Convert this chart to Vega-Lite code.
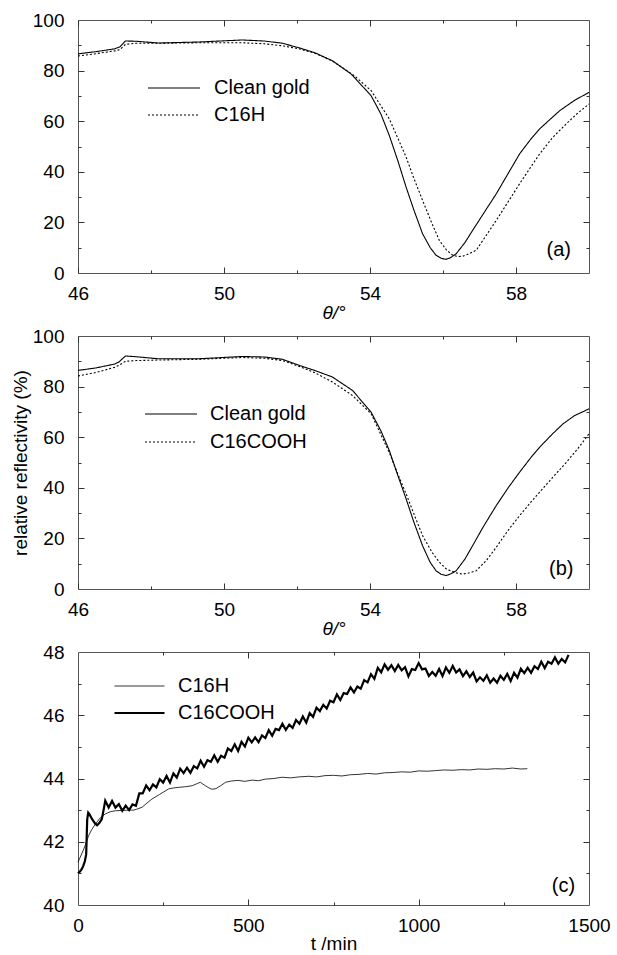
{
  "$schema": "https://vega.github.io/schema/vega-lite/v6.json",
  "background": "white",
  "padding": {"left": 10, "top": 10, "right": 0, "bottom": 0},
  "spacing": 63,
  "bounds": "flush",
  "resolve": {"scale": {"strokeDash": "independent", "strokeWidth": "independent"}, "legend": {"strokeDash": "independent", "strokeWidth": "independent"}},
  "config": {
    "font": "Liberation Sans",
    "view": {"stroke": "#555", "strokeWidth": 1},
    "axis": {"domain": false, "grid": false, "labelFont": "Liberation Sans", "labelFontSize": 19, "labelColor": "#000", "labelFlush": false, "labelOverlap": false, "ticks": true, "tickSize": 0, "tickColor": "#333", "tickWidth": 1, "labelPadding": 11, "titleFont": "Liberation Sans", "titleFontSize": 19, "titleFontWeight": "normal", "titleColor": "#000"},
    "axisLeft": {"labelPadding": 14},
    "text": {"font": "Liberation Sans", "fontSize": 20, "color": "#000"},
    "legend": {"padding": 0, "labelFont": "Liberation Sans", "labelFontSize": 20, "labelColor": "#000", "symbolType": "stroke", "symbolSize": 2704, "symbolStrokeColor": "#000", "title": null, "clipHeight": 20}
  },
  "datasets": {
    "a": [
      {"s":"Clean gold","x":46,"y":86.6},{"s":"Clean gold","x":46.5,"y":87.5},{"s":"Clean gold","x":47.0,"y":88.6},{"s":"Clean gold","x":47.15,"y":89.4},{"s":"Clean gold","x":47.3,"y":91.7},{"s":"Clean gold","x":47.6,"y":91.6},{"s":"Clean gold","x":48.2,"y":90.9},{"s":"Clean gold","x":49.3,"y":91.3},{"s":"Clean gold","x":50.5,"y":92.1},{"s":"Clean gold","x":51.1,"y":91.7},{"s":"Clean gold","x":51.6,"y":90.8},{"s":"Clean gold","x":52.06,"y":89.0},{"s":"Clean gold","x":52.5,"y":87.0},{"s":"Clean gold","x":52.97,"y":83.9},{"s":"Clean gold","x":53.48,"y":78.7},{"s":"Clean gold","x":54.03,"y":70.1},{"s":"Clean gold","x":54.3,"y":62.8},{"s":"Clean gold","x":54.53,"y":54.3},{"s":"Clean gold","x":54.76,"y":44.5},{"s":"Clean gold","x":54.99,"y":33.9},{"s":"Clean gold","x":55.2,"y":25.0},{"s":"Clean gold","x":55.44,"y":15.5},{"s":"Clean gold","x":55.65,"y":10.0},{"s":"Clean gold","x":55.81,"y":7.0},{"s":"Clean gold","x":55.95,"y":5.8},{"s":"Clean gold","x":56.08,"y":5.4},{"s":"Clean gold","x":56.2,"y":6.0},{"s":"Clean gold","x":56.36,"y":7.6},{"s":"Clean gold","x":56.6,"y":12.0},{"s":"Clean gold","x":56.81,"y":16.8},{"s":"Clean gold","x":57.1,"y":23.3},{"s":"Clean gold","x":57.46,"y":31.3},{"s":"Clean gold","x":57.8,"y":39.7},{"s":"Clean gold","x":58.1,"y":47.1},{"s":"Clean gold","x":58.4,"y":52.8},{"s":"Clean gold","x":58.65,"y":57.0},{"s":"Clean gold","x":59.2,"y":64.2},{"s":"Clean gold","x":59.6,"y":68.2},{"s":"Clean gold","x":60,"y":71.4},
      {"s":"C16H","x":46,"y":85.8},{"s":"C16H","x":46.5,"y":86.7},{"s":"C16H","x":47.0,"y":87.8},{"s":"C16H","x":47.15,"y":88.3},{"s":"C16H","x":47.3,"y":90.4},{"s":"C16H","x":47.6,"y":90.8},{"s":"C16H","x":48.2,"y":90.8},{"s":"C16H","x":49.3,"y":91.0},{"s":"C16H","x":50.5,"y":91.0},{"s":"C16H","x":51.1,"y":90.6},{"s":"C16H","x":51.6,"y":89.8},{"s":"C16H","x":52.06,"y":88.6},{"s":"C16H","x":52.5,"y":86.8},{"s":"C16H","x":52.97,"y":83.8},{"s":"C16H","x":53.57,"y":78.0},{"s":"C16H","x":54.03,"y":72.1},{"s":"C16H","x":54.53,"y":60.9},{"s":"C16H","x":54.99,"y":45.8},{"s":"C16H","x":55.2,"y":37.5},{"s":"C16H","x":55.44,"y":28.7},{"s":"C16H","x":55.7,"y":19.5},{"s":"C16H","x":55.9,"y":12.9},{"s":"C16H","x":56.1,"y":9.0},{"s":"C16H","x":56.27,"y":7.0},{"s":"C16H","x":56.4,"y":6.5},{"s":"C16H","x":56.54,"y":6.6},{"s":"C16H","x":56.7,"y":7.5},{"s":"C16H","x":56.91,"y":9.0},{"s":"C16H","x":57.2,"y":15.2},{"s":"C16H","x":57.46,"y":20.8},{"s":"C16H","x":57.8,"y":28.5},{"s":"C16H","x":58.1,"y":35.3},{"s":"C16H","x":58.4,"y":41.8},{"s":"C16H","x":58.65,"y":47.1},{"s":"C16H","x":59.0,"y":53.5},{"s":"C16H","x":59.38,"y":59.0},{"s":"C16H","x":59.7,"y":63.3},{"s":"C16H","x":60,"y":66.8}
    ],
    "b": [
      {"s":"Clean gold","x":46,"y":86.4},{"s":"Clean gold","x":46.5,"y":87.4},{"s":"Clean gold","x":47.0,"y":88.9},{"s":"Clean gold","x":47.12,"y":89.7},{"s":"Clean gold","x":47.3,"y":92.1},{"s":"Clean gold","x":47.6,"y":91.8},{"s":"Clean gold","x":48.2,"y":91.0},{"s":"Clean gold","x":49.3,"y":91.0},{"s":"Clean gold","x":50.5,"y":91.9},{"s":"Clean gold","x":51.1,"y":91.7},{"s":"Clean gold","x":51.6,"y":90.8},{"s":"Clean gold","x":52.06,"y":88.4},{"s":"Clean gold","x":52.5,"y":86.3},{"s":"Clean gold","x":52.97,"y":83.8},{"s":"Clean gold","x":53.52,"y":78.5},{"s":"Clean gold","x":54.03,"y":69.9},{"s":"Clean gold","x":54.3,"y":62.5},{"s":"Clean gold","x":54.53,"y":54.7},{"s":"Clean gold","x":54.76,"y":45.0},{"s":"Clean gold","x":54.99,"y":35.6},{"s":"Clean gold","x":55.2,"y":26.5},{"s":"Clean gold","x":55.44,"y":17.1},{"s":"Clean gold","x":55.65,"y":10.5},{"s":"Clean gold","x":55.81,"y":7.2},{"s":"Clean gold","x":55.95,"y":5.8},{"s":"Clean gold","x":56.08,"y":5.3},{"s":"Clean gold","x":56.2,"y":5.9},{"s":"Clean gold","x":56.36,"y":7.2},{"s":"Clean gold","x":56.6,"y":11.8},{"s":"Clean gold","x":56.81,"y":17.1},{"s":"Clean gold","x":57.1,"y":24.5},{"s":"Clean gold","x":57.46,"y":33.0},{"s":"Clean gold","x":57.8,"y":40.3},{"s":"Clean gold","x":58.1,"y":46.2},{"s":"Clean gold","x":58.4,"y":51.8},{"s":"Clean gold","x":58.65,"y":56.1},{"s":"Clean gold","x":59.0,"y":61.3},{"s":"Clean gold","x":59.29,"y":65.3},{"s":"Clean gold","x":59.6,"y":68.5},{"s":"Clean gold","x":60,"y":71.2},
      {"s":"C16COOH","x":46,"y":84.2},{"s":"C16COOH","x":46.5,"y":85.6},{"s":"C16COOH","x":47.0,"y":87.6},{"s":"C16COOH","x":47.12,"y":88.4},{"s":"C16COOH","x":47.3,"y":90.0},{"s":"C16COOH","x":47.6,"y":90.3},{"s":"C16COOH","x":48.2,"y":90.5},{"s":"C16COOH","x":49.3,"y":90.8},{"s":"C16COOH","x":50.5,"y":91.5},{"s":"C16COOH","x":51.1,"y":91.2},{"s":"C16COOH","x":51.6,"y":90.3},{"s":"C16COOH","x":52.06,"y":88.0},{"s":"C16COOH","x":52.5,"y":85.4},{"s":"C16COOH","x":52.97,"y":81.8},{"s":"C16COOH","x":53.52,"y":76.5},{"s":"C16COOH","x":54.03,"y":69.3},{"s":"C16COOH","x":54.53,"y":53.9},{"s":"C16COOH","x":54.76,"y":45.5},{"s":"C16COOH","x":54.99,"y":37.6},{"s":"C16COOH","x":55.2,"y":29.8},{"s":"C16COOH","x":55.44,"y":21.1},{"s":"C16COOH","x":55.7,"y":14.5},{"s":"C16COOH","x":55.9,"y":10.6},{"s":"C16COOH","x":56.1,"y":7.8},{"s":"C16COOH","x":56.27,"y":6.9},{"s":"C16COOH","x":56.4,"y":6.2},{"s":"C16COOH","x":56.54,"y":5.9},{"s":"C16COOH","x":56.7,"y":6.3},{"s":"C16COOH","x":56.91,"y":7.2},{"s":"C16COOH","x":57.2,"y":11.5},{"s":"C16COOH","x":57.46,"y":16.5},{"s":"C16COOH","x":57.8,"y":23.5},{"s":"C16COOH","x":58.1,"y":29.0},{"s":"C16COOH","x":58.4,"y":34.2},{"s":"C16COOH","x":58.65,"y":38.3},{"s":"C16COOH","x":59.0,"y":44.0},{"s":"C16COOH","x":59.38,"y":50.1},{"s":"C16COOH","x":59.7,"y":55.6},{"s":"C16COOH","x":60,"y":61.3}
    ],
    "c": [
      {"s":"C16H","x":0,"y":41.35},{"s":"C16H","x":8,"y":41.55},{"s":"C16H","x":17,"y":41.77},{"s":"C16H","x":25,"y":42.0},{"s":"C16H","x":31,"y":42.19},{"s":"C16H","x":40,"y":42.38},{"s":"C16H","x":51,"y":42.56},{"s":"C16H","x":65,"y":42.75},{"s":"C16H","x":80,"y":42.88},{"s":"C16H","x":95,"y":42.95},{"s":"C16H","x":110,"y":42.98},{"s":"C16H","x":130,"y":42.99},{"s":"C16H","x":150,"y":43.0},{"s":"C16H","x":164,"y":43.0},{"s":"C16H","x":175,"y":43.04},{"s":"C16H","x":188,"y":43.09},{"s":"C16H","x":200,"y":43.2},{"s":"C16H","x":217,"y":43.35},{"s":"C16H","x":240,"y":43.5},{"s":"C16H","x":266,"y":43.67},{"s":"C16H","x":280,"y":43.7},{"s":"C16H","x":296,"y":43.72},{"s":"C16H","x":315,"y":43.74},{"s":"C16H","x":335,"y":43.77},{"s":"C16H","x":350,"y":43.84},{"s":"C16H","x":359,"y":43.88},{"s":"C16H","x":367,"y":43.82},{"s":"C16H","x":374,"y":43.77},{"s":"C16H","x":385,"y":43.7},{"s":"C16H","x":393,"y":43.66},{"s":"C16H","x":405,"y":43.68},{"s":"C16H","x":420,"y":43.78},{"s":"C16H","x":433,"y":43.88},{"s":"C16H","x":450,"y":43.92},{"s":"C16H","x":470,"y":43.94},{"s":"C16H","x":490,"y":43.91},{"s":"C16H","x":511,"y":43.95},{"s":"C16H","x":530,"y":43.93},{"s":"C16H","x":550,"y":43.98},{"s":"C16H","x":575,"y":44.0},{"s":"C16H","x":599,"y":44.04},{"s":"C16H","x":625,"y":44.02},{"s":"C16H","x":648,"y":44.05},{"s":"C16H","x":677,"y":44.07},{"s":"C16H","x":700,"y":44.05},{"s":"C16H","x":725,"y":44.09},{"s":"C16H","x":750,"y":44.1},{"s":"C16H","x":775,"y":44.08},{"s":"C16H","x":800,"y":44.12},{"s":"C16H","x":825,"y":44.13},{"s":"C16H","x":850,"y":44.16},{"s":"C16H","x":875,"y":44.14},{"s":"C16H","x":900,"y":44.18},{"s":"C16H","x":925,"y":44.19},{"s":"C16H","x":950,"y":44.21},{"s":"C16H","x":975,"y":44.2},{"s":"C16H","x":1000,"y":44.24},{"s":"C16H","x":1025,"y":44.23},{"s":"C16H","x":1050,"y":44.25},{"s":"C16H","x":1075,"y":44.27},{"s":"C16H","x":1100,"y":44.26},{"s":"C16H","x":1125,"y":44.28},{"s":"C16H","x":1150,"y":44.27},{"s":"C16H","x":1175,"y":44.3},{"s":"C16H","x":1200,"y":44.29},{"s":"C16H","x":1225,"y":44.31},{"s":"C16H","x":1250,"y":44.3},{"s":"C16H","x":1275,"y":44.33},{"s":"C16H","x":1300,"y":44.3},{"s":"C16H","x":1319,"y":44.31},
      {"s":"C16COOH","x":0,"y":41.0},{"s":"C16COOH","x":5,"y":41.05},{"s":"C16COOH","x":10,"y":41.12},{"s":"C16COOH","x":15,"y":41.22},{"s":"C16COOH","x":20,"y":41.38},{"s":"C16COOH","x":24,"y":41.6},{"s":"C16COOH","x":27,"y":42.7},{"s":"C16COOH","x":30,"y":42.92},{"s":"C16COOH","x":33,"y":42.88},{"s":"C16COOH","x":41,"y":42.72},{"s":"C16COOH","x":50,"y":42.58},{"s":"C16COOH","x":56,"y":42.52},{"s":"C16COOH","x":63,"y":42.6},{"s":"C16COOH","x":70,"y":42.72},{"s":"C16COOH","x":75,"y":43.0},
      {"s":"C16COOH","x":80,"y":43.30},{"s":"C16COOH","x":90,"y":43.08},{"s":"C16COOH","x":100,"y":43.29},{"s":"C16COOH","x":110,"y":43.08},{"s":"C16COOH","x":120,"y":43.19},{"s":"C16COOH","x":130,"y":42.98},{"s":"C16COOH","x":140,"y":43.14},{"s":"C16COOH","x":150,"y":43.00},{"s":"C16COOH","x":160,"y":43.18},{"s":"C16COOH","x":170,"y":43.14},
      {"s":"C16COOH","x":180,"y":43.53},{"s":"C16COOH","x":190,"y":43.53},{"s":"C16COOH","x":200,"y":43.78},{"s":"C16COOH","x":210,"y":43.63},{"s":"C16COOH","x":220,"y":43.81},{"s":"C16COOH","x":230,"y":43.72},{"s":"C16COOH","x":240,"y":43.98},{"s":"C16COOH","x":250,"y":43.87},{"s":"C16COOH","x":260,"y":44.08},{"s":"C16COOH","x":270,"y":43.87},
      {"s":"C16COOH","x":280,"y":44.16},{"s":"C16COOH","x":290,"y":44.03},{"s":"C16COOH","x":300,"y":44.31},{"s":"C16COOH","x":310,"y":44.17},{"s":"C16COOH","x":320,"y":44.34},{"s":"C16COOH","x":330,"y":44.18},{"s":"C16COOH","x":340,"y":44.39},{"s":"C16COOH","x":350,"y":44.32},{"s":"C16COOH","x":360,"y":44.56},{"s":"C16COOH","x":370,"y":44.37},
      {"s":"C16COOH","x":380,"y":44.58},{"s":"C16COOH","x":390,"y":44.53},{"s":"C16COOH","x":400,"y":44.73},{"s":"C16COOH","x":410,"y":44.53},{"s":"C16COOH","x":420,"y":44.72},{"s":"C16COOH","x":430,"y":44.66},{"s":"C16COOH","x":440,"y":44.95},{"s":"C16COOH","x":450,"y":44.87},{"s":"C16COOH","x":460,"y":45.08},{"s":"C16COOH","x":470,"y":44.87},
      {"s":"C16COOH","x":480,"y":45.16},{"s":"C16COOH","x":490,"y":45.01},{"s":"C16COOH","x":500,"y":45.29},{"s":"C16COOH","x":510,"y":45.14},{"s":"C16COOH","x":520,"y":45.30},{"s":"C16COOH","x":530,"y":45.15},{"s":"C16COOH","x":540,"y":45.36},{"s":"C16COOH","x":550,"y":45.28},{"s":"C16COOH","x":560,"y":45.53},{"s":"C16COOH","x":570,"y":45.35},
      {"s":"C16COOH","x":580,"y":45.57},{"s":"C16COOH","x":590,"y":45.53},{"s":"C16COOH","x":600,"y":45.73},{"s":"C16COOH","x":610,"y":45.54},{"s":"C16COOH","x":620,"y":45.70},{"s":"C16COOH","x":630,"y":45.60},{"s":"C16COOH","x":640,"y":45.85},{"s":"C16COOH","x":650,"y":45.73},{"s":"C16COOH","x":660,"y":45.96},{"s":"C16COOH","x":670,"y":45.77},
      {"s":"C16COOH","x":680,"y":46.07},{"s":"C16COOH","x":690,"y":45.95},{"s":"C16COOH","x":700,"y":46.24},{"s":"C16COOH","x":710,"y":46.13},{"s":"C16COOH","x":720,"y":46.33},{"s":"C16COOH","x":730,"y":46.21},{"s":"C16COOH","x":740,"y":46.46},{"s":"C16COOH","x":750,"y":46.41},{"s":"C16COOH","x":760,"y":46.66},{"s":"C16COOH","x":770,"y":46.48},
      {"s":"C16COOH","x":780,"y":46.70},{"s":"C16COOH","x":790,"y":46.67},{"s":"C16COOH","x":800,"y":46.88},{"s":"C16COOH","x":810,"y":46.72},{"s":"C16COOH","x":820,"y":46.91},{"s":"C16COOH","x":830,"y":46.84},{"s":"C16COOH","x":840,"y":47.11},{"s":"C16COOH","x":850,"y":47.04},{"s":"C16COOH","x":860,"y":47.30},{"s":"C16COOH","x":870,"y":47.15},
      {"s":"C16COOH","x":880,"y":47.50},{"s":"C16COOH","x":890,"y":47.36},{"s":"C16COOH","x":900,"y":47.61},{"s":"C16COOH","x":910,"y":47.44},{"s":"C16COOH","x":920,"y":47.58},{"s":"C16COOH","x":930,"y":47.40},{"s":"C16COOH","x":940,"y":47.59},{"s":"C16COOH","x":950,"y":47.42},{"s":"C16COOH","x":960,"y":47.52},{"s":"C16COOH","x":970,"y":47.23},
      {"s":"C16COOH","x":980,"y":47.46},{"s":"C16COOH","x":990,"y":47.43},{"s":"C16COOH","x":1000,"y":47.65},{"s":"C16COOH","x":1010,"y":47.45},{"s":"C16COOH","x":1020,"y":47.48},{"s":"C16COOH","x":1030,"y":47.24},{"s":"C16COOH","x":1040,"y":47.37},{"s":"C16COOH","x":1050,"y":47.25},{"s":"C16COOH","x":1060,"y":47.46},{"s":"C16COOH","x":1070,"y":47.24},
      {"s":"C16COOH","x":1080,"y":47.51},{"s":"C16COOH","x":1090,"y":47.34},{"s":"C16COOH","x":1100,"y":47.56},{"s":"C16COOH","x":1110,"y":47.35},{"s":"C16COOH","x":1120,"y":47.45},{"s":"C16COOH","x":1130,"y":47.24},{"s":"C16COOH","x":1140,"y":47.39},{"s":"C16COOH","x":1150,"y":47.21},{"s":"C16COOH","x":1160,"y":47.35},{"s":"C16COOH","x":1170,"y":47.07},
      {"s":"C16COOH","x":1180,"y":47.20},{"s":"C16COOH","x":1190,"y":47.09},{"s":"C16COOH","x":1200,"y":47.26},{"s":"C16COOH","x":1210,"y":47.03},{"s":"C16COOH","x":1220,"y":47.16},{"s":"C16COOH","x":1230,"y":47.03},{"s":"C16COOH","x":1240,"y":47.25},{"s":"C16COOH","x":1250,"y":47.12},{"s":"C16COOH","x":1260,"y":47.31},{"s":"C16COOH","x":1270,"y":47.08},
      {"s":"C16COOH","x":1280,"y":47.34},{"s":"C16COOH","x":1290,"y":47.19},{"s":"C16COOH","x":1300,"y":47.47},{"s":"C16COOH","x":1310,"y":47.33},{"s":"C16COOH","x":1320,"y":47.50},{"s":"C16COOH","x":1330,"y":47.34},{"s":"C16COOH","x":1340,"y":47.55},{"s":"C16COOH","x":1350,"y":47.46},{"s":"C16COOH","x":1360,"y":47.69},{"s":"C16COOH","x":1370,"y":47.49},
      {"s":"C16COOH","x":1380,"y":47.69},{"s":"C16COOH","x":1390,"y":47.63},{"s":"C16COOH","x":1400,"y":47.83},{"s":"C16COOH","x":1410,"y":47.63},{"s":"C16COOH","x":1420,"y":47.78},{"s":"C16COOH","x":1430,"y":47.67},{"s":"C16COOH","x":1440,"y":47.91}
    ]
  },
  "vconcat": [
    {
      "width": 511, "height": 253,
      "layer": [
        {
          "data": {"name": "a"},
          "mark": {"type": "line", "color": "#000", "strokeWidth": 1.1},
          "encoding": {
            "x": {"field": "x", "type": "quantitative", "scale": {"domain": [46, 60], "nice": false, "zero": false},
              "axis": {"orient": "bottom", "values": [46,50,54,58], "title": "θ/°", "titleFontStyle": "italic", "titleY": 45, "titleBaseline": "alphabetic"}},
            "y": {"field": "y", "type": "quantitative", "scale": {"domain": [0, 100], "nice": false},
              "axis": {"orient": "left", "values": [0,20,40,60,80,100], "title": null}},
            "strokeDash": {"field": "s", "type": "nominal", "scale": {"domain": ["Clean gold", "C16H"], "range": [[1, 0], [2, 2]]},
              "legend": {"orient": "none", "legendX": 69, "legendY": 58, "labelOffset": 13, "rowPadding": 7, "symbolStrokeWidth": 1.1}}
          }
        },
        {
          "data": {"values": [{"t": "(a)"}]},
          "mark": {"type": "text"},
          "encoding": {
            "x": {"datum": 59.17, "type": "quantitative", "axis": {"orient": "top", "ticks": true, "tickColor": "#333", "zindex": 1, "offset": -253, "values": [46,50,54,58], "tickSize": 6, "labels": false, "title": null}},
            "y": {"datum": 9, "type": "quantitative", "axis": {"orient": "right", "ticks": true, "tickColor": "#333", "zindex": 1, "offset": -511, "values": [20,40,60,80], "tickSize": 6, "labels": false, "title": null}},
            "text": {"field": "t"}
          }
        },
        {
          "data": {"values": [{"t": ""}]},
          "mark": {"type": "text"},
          "encoding": {
            "x": {"datum": 50, "type": "quantitative", "axis": {"orient": "bottom", "ticks": true, "tickColor": "#333", "zindex": 1, "offset": -253, "values": [46,50,54,58], "tickSize": 6, "labels": false, "title": null}},
            "y": {"datum": 50, "type": "quantitative", "axis": {"orient": "left", "ticks": true, "tickColor": "#333", "zindex": 1, "offset": -511, "values": [20,40,60,80], "tickSize": 6, "labels": false, "title": null}},
            "text": {"field": "t"}
          }
        },
        {
          "data": {"values": [{"t": ""}]},
          "mark": {"type": "text"},
          "encoding": {
            "x": {"datum": 50, "type": "quantitative", "axis": {"orient": "top", "ticks": true, "tickColor": "#333", "zindex": 1, "offset": -253, "values": [48,52,56], "tickSize": 3, "labels": false, "title": null}},
            "y": {"datum": 50, "type": "quantitative", "axis": {"orient": "right", "ticks": true, "tickColor": "#333", "zindex": 1, "offset": -511, "values": [10,30,50,70,90], "tickSize": 3, "labels": false, "title": null}},
            "text": {"field": "t"}
          }
        },
        {
          "data": {"values": [{"t": ""}]},
          "mark": {"type": "text"},
          "encoding": {
            "x": {"datum": 50, "type": "quantitative", "axis": {"orient": "bottom", "ticks": true, "tickColor": "#333", "zindex": 1, "offset": -253, "values": [48,52,56], "tickSize": 3, "labels": false, "title": null}},
            "y": {"datum": 50, "type": "quantitative", "axis": {"orient": "left", "ticks": true, "tickColor": "#333", "zindex": 1, "offset": -511, "values": [10,30,50,70,90], "tickSize": 3, "labels": false, "title": null}},
            "text": {"field": "t"}
          }
        }
      ]
    },
    {
      "width": 511, "height": 253,
      "layer": [
        {
          "data": {"name": "b"},
          "mark": {"type": "line", "color": "#000", "strokeWidth": 1.1},
          "encoding": {
            "x": {"field": "x", "type": "quantitative", "scale": {"domain": [46, 60], "nice": false, "zero": false},
              "axis": {"orient": "bottom", "values": [46,50,54,58], "title": "θ/°", "titleFontStyle": "italic", "titleY": 45, "titleBaseline": "alphabetic"}},
            "y": {"field": "y", "type": "quantitative", "scale": {"domain": [0, 100], "nice": false},
              "axis": {"orient": "left", "values": [0,20,40,60,80,100], "title": "relative reflectivity (%)", "titleX": -52, "titleBaseline": "alphabetic"}},
            "strokeDash": {"field": "s", "type": "nominal", "scale": {"domain": ["Clean gold", "C16COOH"], "range": [[1, 0], [2, 2]]},
              "legend": {"orient": "none", "legendX": 66, "legendY": 68, "labelOffset": 12, "rowPadding": 8, "symbolStrokeWidth": 1.1}}
          }
        },
        {
          "data": {"values": [{"t": "(b)"}]},
          "mark": {"type": "text"},
          "encoding": {
            "x": {"datum": 59.24, "type": "quantitative", "axis": {"orient": "top", "ticks": true, "tickColor": "#333", "zindex": 1, "offset": -253, "values": [46,50,54,58], "tickSize": 6, "labels": false, "title": null}},
            "y": {"datum": 8, "type": "quantitative", "axis": {"orient": "right", "ticks": true, "tickColor": "#333", "zindex": 1, "offset": -511, "values": [20,40,60,80], "tickSize": 6, "labels": false, "title": null}},
            "text": {"field": "t"}
          }
        },
        {
          "data": {"values": [{"t": ""}]},
          "mark": {"type": "text"},
          "encoding": {
            "x": {"datum": 50, "type": "quantitative", "axis": {"orient": "bottom", "ticks": true, "tickColor": "#333", "zindex": 1, "offset": -253, "values": [46,50,54,58], "tickSize": 6, "labels": false, "title": null}},
            "y": {"datum": 50, "type": "quantitative", "axis": {"orient": "left", "ticks": true, "tickColor": "#333", "zindex": 1, "offset": -511, "values": [20,40,60,80], "tickSize": 6, "labels": false, "title": null}},
            "text": {"field": "t"}
          }
        },
        {
          "data": {"values": [{"t": ""}]},
          "mark": {"type": "text"},
          "encoding": {
            "x": {"datum": 50, "type": "quantitative", "axis": {"orient": "top", "ticks": true, "tickColor": "#333", "zindex": 1, "offset": -253, "values": [48,52,56], "tickSize": 3, "labels": false, "title": null}},
            "y": {"datum": 50, "type": "quantitative", "axis": {"orient": "right", "ticks": true, "tickColor": "#333", "zindex": 1, "offset": -511, "values": [10,30,50,70,90], "tickSize": 3, "labels": false, "title": null}},
            "text": {"field": "t"}
          }
        },
        {
          "data": {"values": [{"t": ""}]},
          "mark": {"type": "text"},
          "encoding": {
            "x": {"datum": 50, "type": "quantitative", "axis": {"orient": "bottom", "ticks": true, "tickColor": "#333", "zindex": 1, "offset": -253, "values": [48,52,56], "tickSize": 3, "labels": false, "title": null}},
            "y": {"datum": 50, "type": "quantitative", "axis": {"orient": "left", "ticks": true, "tickColor": "#333", "zindex": 1, "offset": -511, "values": [10,30,50,70,90], "tickSize": 3, "labels": false, "title": null}},
            "text": {"field": "t"}
          }
        }
      ]
    },
    {
      "width": 511, "height": 253,
      "layer": [
        {
          "data": {"name": "c"},
          "mark": {"type": "line", "color": "#000"},
          "encoding": {
            "x": {"field": "x", "type": "quantitative", "scale": {"domain": [0, 1500], "nice": false},
              "axis": {"orient": "bottom", "values": [0,500,1000,1500], "format": "d", "title": "t /min", "titleY": 44, "titleBaseline": "alphabetic"}},
            "y": {"field": "y", "type": "quantitative", "scale": {"domain": [40, 48], "nice": false, "zero": false},
              "axis": {"orient": "left", "values": [40,42,44,46,48], "title": null}},
            "strokeWidth": {"field": "s", "type": "nominal", "scale": {"domain": ["C16H", "C16COOH"], "range": [0.8, 2.2]},
              "legend": {"orient": "none", "legendX": 35, "legendY": 24, "labelOffset": 12, "rowPadding": 7, "symbolSize": 2500}}
          }
        },
        {
          "data": {"values": [{"t": "(c)"}]},
          "mark": {"type": "text"},
          "encoding": {
            "x": {"datum": 1425, "type": "quantitative", "axis": {"orient": "top", "ticks": true, "tickColor": "#333", "zindex": 1, "offset": -253, "values": [500,1000], "tickSize": 6, "labels": false, "title": null}},
            "y": {"datum": 40.6, "type": "quantitative", "axis": {"orient": "right", "ticks": true, "tickColor": "#333", "zindex": 1, "offset": -511, "values": [42,44,46], "tickSize": 6, "labels": false, "title": null}},
            "text": {"field": "t"}
          }
        },
        {
          "data": {"values": [{"t": ""}]},
          "mark": {"type": "text"},
          "encoding": {
            "x": {"datum": 500, "type": "quantitative", "axis": {"orient": "bottom", "ticks": true, "tickColor": "#333", "zindex": 1, "offset": -253, "values": [500,1000], "tickSize": 6, "labels": false, "title": null}},
            "y": {"datum": 44, "type": "quantitative", "axis": {"orient": "left", "ticks": true, "tickColor": "#333", "zindex": 1, "offset": -511, "values": [42,44,46], "tickSize": 6, "labels": false, "title": null}},
            "text": {"field": "t"}
          }
        },
        {
          "data": {"values": [{"t": ""}]},
          "mark": {"type": "text"},
          "encoding": {
            "x": {"datum": 500, "type": "quantitative", "axis": {"orient": "top", "ticks": true, "tickColor": "#333", "zindex": 1, "offset": -253, "values": [250,750,1250], "tickSize": 3, "labels": false, "title": null}},
            "y": {"datum": 44, "type": "quantitative", "axis": {"orient": "right", "ticks": true, "tickColor": "#333", "zindex": 1, "offset": -511, "values": [41,43,45,47], "tickSize": 3, "labels": false, "title": null}},
            "text": {"field": "t"}
          }
        },
        {
          "data": {"values": [{"t": ""}]},
          "mark": {"type": "text"},
          "encoding": {
            "x": {"datum": 500, "type": "quantitative", "axis": {"orient": "bottom", "ticks": true, "tickColor": "#333", "zindex": 1, "offset": -253, "values": [250,750,1250], "tickSize": 3, "labels": false, "title": null}},
            "y": {"datum": 44, "type": "quantitative", "axis": {"orient": "left", "ticks": true, "tickColor": "#333", "zindex": 1, "offset": -511, "values": [41,43,45,47], "tickSize": 3, "labels": false, "title": null}},
            "text": {"field": "t"}
          }
        }
      ]
    }
  ]
}
